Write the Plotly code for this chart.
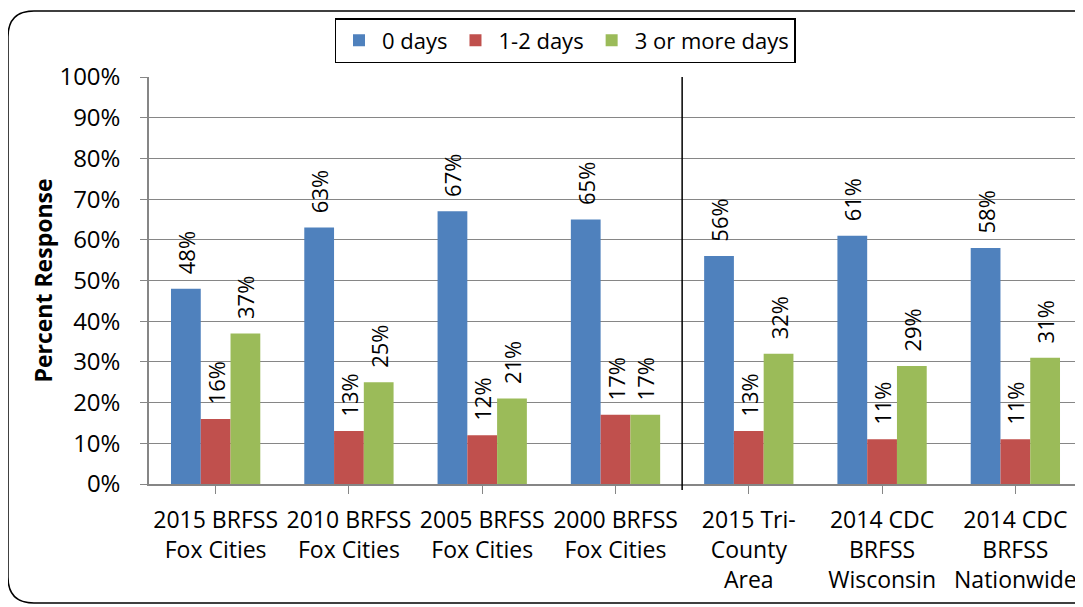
import plotly.graph_objects as go

categories = ["2015 BRFSS<br>Fox Cities", "2010 BRFSS<br>Fox Cities", "2005 BRFSS<br>Fox Cities",
              "2000 BRFSS<br>Fox Cities", "2015 Tri-<br>County<br>Area", "2014 CDC<br>BRFSS<br>Wisconsin",
              "2014 CDC<br>BRFSS<br>Nationwide"]
zero_days = [48, 63, 67, 65, 56, 61, 58]
one_two_days = [16, 13, 12, 17, 13, 11, 11]
three_plus_days = [37, 25, 21, 17, 32, 29, 31]
series_names = ["0 days", "1-2 days", "3 or more days"]
colors = ["#4F81BD", "#C0504D", "#9BBB59"]
y_ticks = [0, 10, 20, 30, 40, 50, 60, 70, 80, 90, 100]

# page has an 8px body margin: work in screen pixels and convert
OFF = 8
W, H = 1083 - OFF, 607 - OFF
L, R, T, B = 149 - OFF, 1082 - OFF, 77 - OFF, 484 - OFF
FONT = "Open Sans"

fig = go.Figure()
for name, vals, col in zip(series_names, [zero_days, one_two_days, three_plus_days], colors):
    fig.add_trace(go.Bar(
        x=list(range(len(categories))), y=vals, name=name, marker_color=col,
        marker_line_width=0,
        text=[f"\u00a0\u00a0{v}%" for v in vals], textposition="outside", textangle=-90,
        constraintext="none",
        textfont=dict(size=22, color="black", family=FONT),
        cliponaxis=False,
    ))

def px2paper(px, py):
    # screen pixel -> paper coords
    px -= OFF
    py -= OFF
    return (px - L) / (R - L), (B - py) / (B - T)

# rounded outer border (screen px)
r = 26
x0, y0, x1, y1 = 8, 11, 1100, 603
def P(a, b):
    xx, yy = px2paper(a, b)
    return f"{xx:.5f},{yy:.5f}"
path = (f"M {P(x0, y0 + r)} Q {P(x0, y0)} {P(x0 + r, y0)} L {P(x1 - r, y0)} "
        f"Q {P(x1, y0)} {P(x1, y0 + r)} L {P(x1, y1 - r)} Q {P(x1, y1)} {P(x1 - r, y1)} "
        f"L {P(x0 + r, y1)} Q {P(x0, y1)} {P(x0, y1 - r)} Z")
fig.add_shape(type="path", path=path, xref="paper", yref="paper",
              line=dict(color="black", width=1.5), layer="above")

# separator line
_, sy0 = px2paper(0, 490)
_, sy1 = px2paper(0, 77)
fig.add_shape(type="line", x0=3.5, x1=3.5, xref="x", y0=sy0, y1=sy1, yref="paper",
              line=dict(color="black", width=1.5), layer="above")

fig.update_layout(
    width=W, height=H,
    margin=dict(l=L, r=W - R, t=T, b=H - B, autoexpand=False),
    paper_bgcolor="white", plot_bgcolor="white",
    barmode="group", bargap=0.33, bargroupgap=0,
    font=dict(family=FONT, size=22, color="black"),
    showlegend=True,
    legend=dict(orientation="h", x=px2paper(565, 0)[0], xanchor="center", y=px2paper(0, 18)[1], yanchor="top",
                bordercolor="black", borderwidth=1.5, font=dict(size=22, family=FONT),
                itemwidth=36, tracegroupgap=0, bgcolor="white"),
    xaxis=dict(tickmode="array", tickvals=list(range(len(categories))), ticktext=categories,
               range=[-0.5, len(categories) - 0.5], showgrid=False, automargin=False,
               ticks="outside", tickson="boundaries", ticklen=8, tickcolor="#868686",
               showline=True, linecolor="#868686", linewidth=1.5,
               ticklabelstandoff=7,
               tickfont=dict(size=23, family=FONT)),
    yaxis=dict(range=[0, 100], tickvals=y_ticks, ticktext=[f"{v}%" for v in y_ticks],
               showgrid=True, gridcolor="#868686", gridwidth=1.2, automargin=False,
               ticks="outside", ticklen=7, tickcolor="#868686",
               showline=True, linecolor="#868686", linewidth=1.5,
               ticklabelstandoff=15,
               tickfont=dict(size=24, family=FONT),
               title=dict(text="<b>Percent Response</b>", font=dict(size=23, family=FONT), standoff=0)),
)

fig.write_html("out.html")
